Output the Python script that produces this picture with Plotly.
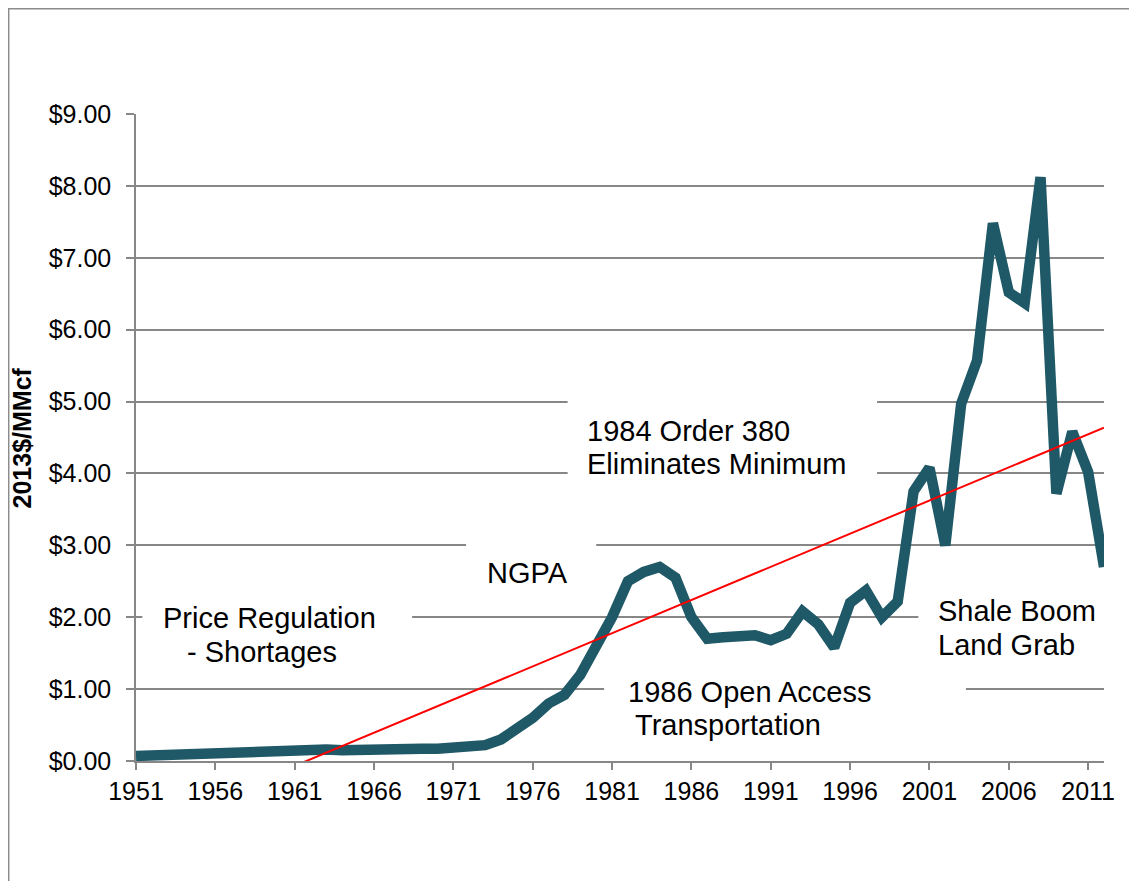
import numpy as np
import plotly.graph_objects as go

# natural gas price, 2013$/MMcf
years = list(range(1951, 2013))
price = [0.07, 0.08, 0.09, 0.10, 0.10, 0.11, 0.11, 0.12, 0.13, 0.14,
         0.15, 0.16, 0.16, 0.15, 0.16, 0.16, 0.16, 0.16, 0.17, 0.17,
         0.18, 0.20, 0.22, 0.30, 0.45, 0.60, 0.80, 0.92, 1.20, 1.60,
         2.00, 2.50, 2.63, 2.70, 2.55, 2.00, 1.70, 1.72, 1.72, 1.75,
         1.68, 1.77, 2.08, 1.90, 1.58, 2.20, 2.37, 2.00, 2.22, 3.75,
         4.08, 3.00, 4.97, 5.57, 7.48, 6.52, 6.37, 8.12, 3.72, 4.58,
         4.02, 2.70]

# linear trendline (least squares)
slope, icpt = np.polyfit(years, price, 1)
trend_x = [years[0], years[-1]]
trend_y = [slope * x + icpt for x in trend_x]

notes = [
    ("1984 Order 380", 1979.3, 4.59),
    ("Eliminates Minimum", 1979.3, 4.13),
    ("NGPA", 1973.0, 2.61),
    ("Price Regulation", 1952.6, 1.99),
    ("- Shortages", 1954.1, 1.52),
    ("1986 Open Access", 1981.85, 0.96),
    ("Transportation", 1982.3, 0.50),
    ("Shale Boom", 2001.4, 2.08),
    ("Land Grab", 2001.4, 1.61),
]

# white boxes behind the text boxes (hide gridlines)
boxes = [
    (1978.2, 1997.7, 3.84, 5.16),
    (1971.8, 1980.0, 2.38, 3.21),
    (1951.4, 1968.4, 1.27, 2.24),
    (1980.5, 2003.3, 0.29, 1.20),
    (2000.3, 2012.5, 1.34, 2.38),
]

fig = go.Figure()

fig.add_trace(go.Scatter(x=years, y=price, mode='lines',
                         line=dict(color='#1F5866', width=10.5),
                         showlegend=False, hoverinfo='skip'))
fig.add_trace(go.Scatter(x=trend_x, y=trend_y, mode='lines',
                         line=dict(color='#FF0000', width=2),
                         showlegend=False, hoverinfo='skip'))

for x0, x1, y0, y1 in boxes:
    fig.add_shape(type='rect', xref='x', yref='y', x0=x0, x1=x1, y0=y0, y1=y1,
                  fillcolor='white', line=dict(width=0), layer='between')

for txt, x, y in notes:
    fig.add_annotation(text=txt, x=x, y=y, xref='x', yref='y',
                       xanchor='left', yanchor='middle', showarrow=False,
                       font=dict(size=29, color='black'))

# outer chart border
fig.add_shape(type='rect', xref='paper', yref='paper',
              x0=-0.1315, x1=1.2, y0=-0.3, y1=1.1627,
              line=dict(color='#8C8C8C', width=1.5), fillcolor='rgba(0,0,0,0)')

fig.add_annotation(text='<b>2013$/MMcf</b>', xref='paper', yref='paper',
                   x=-0.1178, y=0.5, textangle=-90, showarrow=False,
                   xanchor='center', yanchor='middle',
                   font=dict(size=25, color='black'))

fig.update_xaxes(range=[1951, 2012], tick0=1951, dtick=5,
                 showgrid=False, zeroline=False,
                 showline=True, linecolor='#878787', linewidth=2,
                 ticks='outside', ticklen=7, tickwidth=1.5, tickcolor='#878787',
                 tickfont=dict(size=25, color='black'))
fig.update_yaxes(range=[0, 9], dtick=1, tickprefix='$', tickformat='.2f',
                 showgrid=True, gridcolor='#878787', gridwidth=1.5,
                 zeroline=False,
                 showline=True, linecolor='#878787', linewidth=1.5,
                 ticks='outside', ticklen=8, tickwidth=1.5, tickcolor='#878787',
                 ticklabelstandoff=10,
                 tickfont=dict(size=25, color='black'))

fig.update_layout(width=1129, height=873,
                  margin=dict(l=128, r=33, t=106, b=120),
                  paper_bgcolor='white', plot_bgcolor='white',
                  font_family='Liberation Sans')

fig.write_html("out.html")
